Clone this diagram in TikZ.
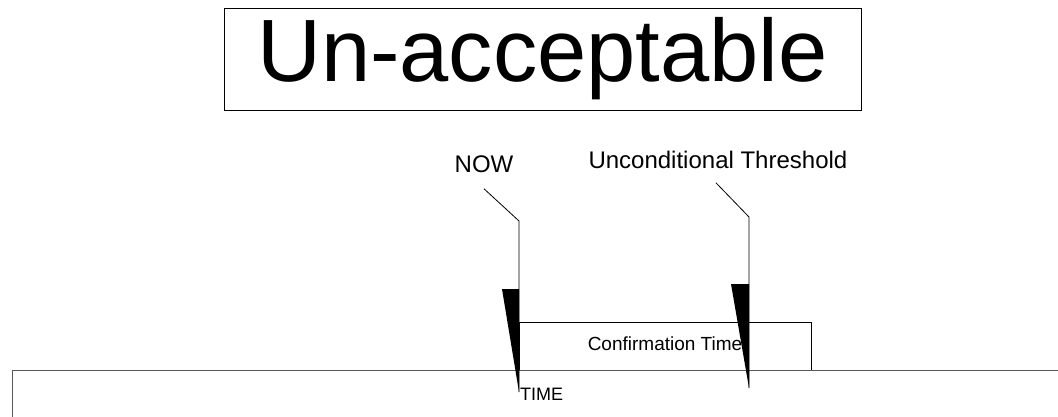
\documentclass[tikz,border=0pt]{standalone}
\usepackage{fontspec}
\setmainfont{Liberation Sans}

\begin{document}
\begin{tikzpicture}[x=1pt,y=-1pt,
    box/.style={draw, line width=0.6pt, inner sep=0pt},
    callout/.style={draw, line width=0.8pt},
    bigfont/.style={font=\fontsize{88.5}{90}\selectfont},
    midfont/.style={font=\fontsize{24}{26}\selectfont},
    smallfont/.style={font=\fontsize{18}{20}\selectfont}]
    \useasboundingbox (0,0) rectangle (1058,417);
    \clip (0,0) rectangle (1058,417);
    \node [box, bigfont, minimum width=637pt, minimum height=102pt] (unacc) at (542.5,59) {Un-acceptable};
    \node [anchor=base, midfont] (now) at (484,173) {NOW};
    \node [anchor=base west, midfont] (thresh) at (585,168) {Unconditional Threshold};
    \node [box, font=\fontsize{19}{21}\selectfont, minimum width=292pt, minimum height=48pt, text height=13pt, text depth=5pt] (confirm) at (665,346) {Confirmation Time};
    \draw [line width=1pt, black!65] (12,370) rectangle (1100,500);
    \node [anchor=base west, smallfont, inner sep=1pt] (timelbl) at (519,400) {TIME};
    % callouts
    \coordinate (nowbend) at (519,221);
    \coordinate (nowtip) at (519,392);
    \coordinate (thrbend) at (749,217);
    \coordinate (thrtip) at (749,388);
    \draw [callout] ([yshift=-12pt]now.south) -- (nowbend) -- (nowtip);
    \draw [callout] ([xshift=-2pt,yshift=-11pt]thresh.south) -- (thrbend) -- (thrtip);
    \fill [black] (502,289) -- (519,289) -- (nowtip) -- cycle;
    \fill [black] (731,284) -- (749,284) -- (thrtip) -- cycle;
\end{tikzpicture}
\end{document}
